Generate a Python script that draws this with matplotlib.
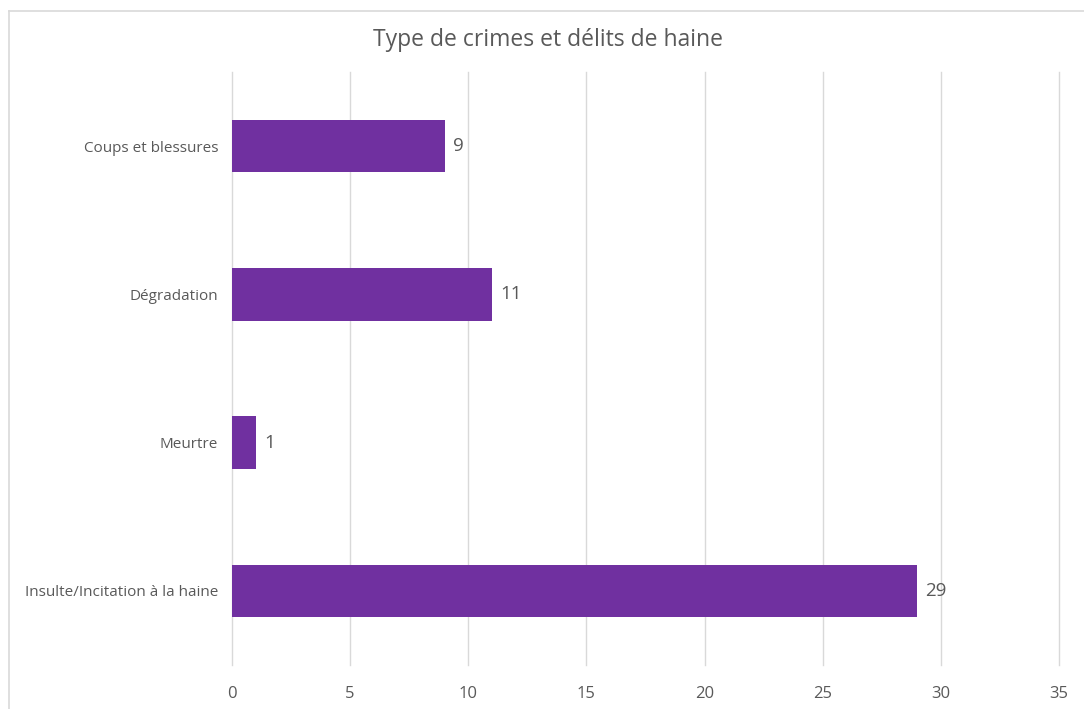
import matplotlib
matplotlib.use("Agg")
import matplotlib.pyplot as plt
from matplotlib.lines import Line2D

categories = ["Insulte/Incitation à la haine", "Meurtre", "Dégradation", "Coups et blessures"]
values = [29, 1, 11, 9]
xticks = [0, 5, 10, 15, 20, 25, 30, 35]

plt.rcParams['font.family'] = ['Open Sans', 'DejaVu Sans']
grey = '#595959'

fig = plt.figure(figsize=(10.84, 7.09), dpi=100)
ax = fig.add_axes([0.214, 0.062, 0.7629, 0.8364])

y = range(len(categories))
bars = ax.barh(y, values, height=0.355, color='#7030A0', zorder=3)
for b, v in zip(bars, values):
    ax.text(v + 0.35, b.get_y() + b.get_height() / 2, str(v), va='center', ha='left',
            fontsize=13.5, color=grey)

ax.set_xlim(0, 35)
ax.set_ylim(-0.5, 3.5)
ax.set_xticks(xticks)
ax.set_yticks(list(y))
ax.set_yticklabels(categories, fontsize=11, color=grey)
ax.tick_params(axis='x', labelsize=12, colors=grey, length=0, pad=15)
ax.tick_params(axis='y', length=0, pad=10)
ax.grid(axis='x', color='#D9D9D9', linewidth=1, zorder=0)
for gl in ax.get_xgridlines():
    gl.set_clip_on(False)
for s in ax.spines.values():
    s.set_visible(False)

fig.text(0.5055, 0.943, "Type de crimes et délits de haine", ha='center', va='center',
         fontsize=16.5, color=grey)

# chart frame (top and left edges visible)
fig.add_artist(Line2D([9 / 1084, 1], [1 - 11 / 709, 1 - 11 / 709], color='#D9D9D9', lw=1.2))
fig.add_artist(Line2D([9 / 1084, 9 / 1084], [0, 1 - 11 / 709], color='#D9D9D9', lw=1.2))

fig.savefig("out.png", dpi=100, facecolor='white')
